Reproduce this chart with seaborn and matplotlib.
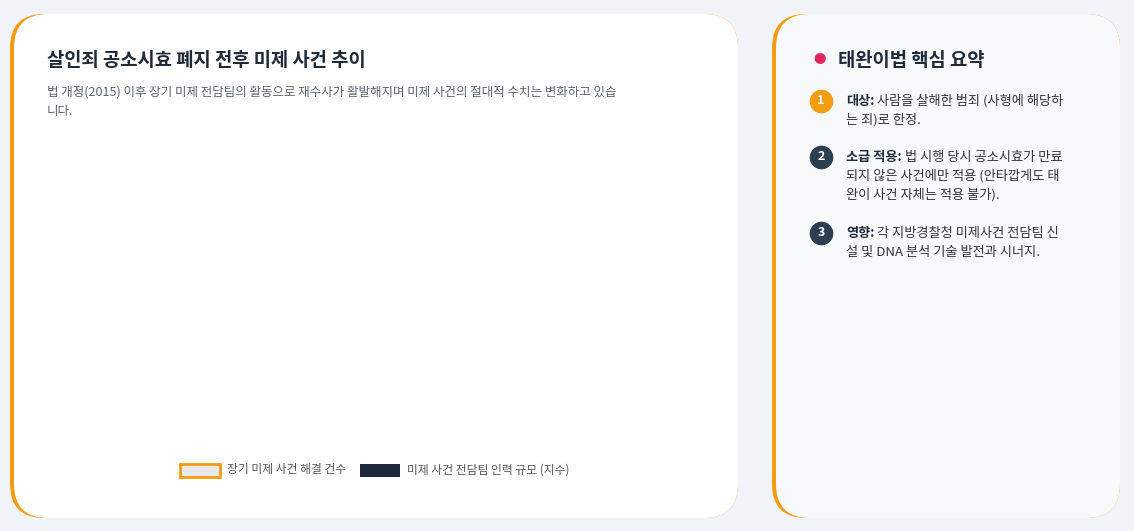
import matplotlib
matplotlib.use("Agg")
import matplotlib.pyplot as plt
import seaborn as sns
import pandas as pd
from matplotlib.patches import FancyBboxPatch, Rectangle

years = ["2010", "2012", "2014", "2015 (법 개정)", "2017", "2019", "2021", "2023"]
staff_index = [20, 20, 25, 60, 80, 85, 90, 95]
solved_cases = [2, 3, 2, 5, 12, 15, 18, 20]

sns.set_theme(style="white")
plt.rcParams['font.family'] = ['Noto Sans CJK KR', 'DejaVu Sans']

W, H = 1134, 531
fig = plt.figure(figsize=(W/100, H/100), dpi=100)
fig.patch.set_facecolor("#f0f3f7")

def fx(x): return x / W
def fy(y): return 1 - y / H

for (x0, y0, x1, y1, fc) in [(10, 14, 738, 518, "white"), (772, 14, 1120, 518, "#f8f9fb")]:
    fig.patches.append(FancyBboxPatch((fx(x0), fy(y1)), fx(x1-x0), (y1-y0)/H,
        boxstyle="round,pad=0,rounding_size=0.03", transform=fig.transFigure,
        facecolor="#f39c12", edgecolor="none", mutation_aspect=W/H))
    fig.patches.append(FancyBboxPatch((fx(x0+4), fy(y1)), fx(x1-x0-4), (y1-y0)/H,
        boxstyle="round,pad=0,rounding_size=0.03", transform=fig.transFigure,
        facecolor=fc, edgecolor="none", mutation_aspect=W/H))

fig.text(fx(47), fy(60), "살인죄 공소시효 폐지 전후 미제 사건 추이", fontsize=13.5, fontweight="bold", color="#1e2a3a", va="center")
fig.text(fx(47), fy(92), "법 개정(2015) 이후 장기 미제 전담팀의 활동으로 재수사가 활발해지며 미제 사건의 절대적 수치는 변화하고 있습", fontsize=9, color="#5a6472", va="center")
fig.text(fx(47), fy(112), "니다.", fontsize=9, color="#5a6472", va="center")

ax = fig.add_axes([fx(105), fy(406), fx(552), 259/H])
df = pd.DataFrame({"year": years, "staff": staff_index, "solved": solved_cases})
sns.barplot(data=df, x="year", y="staff", color="#1e293b", width=0.72, ax=ax, saturation=1)
ax.set_ylim(0, 100)
ax.set_yticks(range(0, 101, 10))
ax.set_ylabel("인력 규모", fontsize=8.5, color="#555")
ax.set_xlabel("")
ax.grid(True, color="#e5e5e5", lw=0.8)
ax.set_axisbelow(True)
for s in ax.spines.values():
    s.set_color("#e0e0e0")
ax.tick_params(axis="both", labelsize=8, colors="#666", length=0)
ax.tick_params(axis="x", rotation=10)
ax2 = ax.twinx()
sns.lineplot(data=df, x="year", y="solved", color="#f39c12", lw=2.2, marker="o", markersize=6,
             markeredgecolor="#f39c12", ax=ax2, sort=False)
ax2.set_ylim(0, 20)
ax2.set_yticks(range(0, 21, 2))
ax2.set_ylabel("해결 건수", fontsize=8.5, color="#555", rotation=270, labelpad=12)
ax2.tick_params(axis="y", labelsize=8, colors="#666", length=0)
for s in ax2.spines.values():
    s.set_visible(False)

fig.patches.append(Rectangle((fx(180), fy(477)), fx(40), 13/H, transform=fig.transFigure,
                             facecolor="#e8e8e8", edgecolor="#f39c12", lw=2))
fig.text(fx(227), fy(470), "장기 미제 사건 해결 건수", fontsize=8.5, color="#555", va="center")
fig.patches.append(Rectangle((fx(360), fy(477)), fx(40), 13/H, transform=fig.transFigure,
                             facecolor="#1e293b", edgecolor="none"))
fig.text(fx(407), fy(470), "미제 사건 전담팀 인력 규모 (지수)", fontsize=8.5, color="#555", va="center")

fig.text(fx(813), fy(60), "●", fontsize=9, color="#e0245e", va="center")
fig.text(fx(838), fy(60), "태완이법 핵심 요약", fontsize=13.5, fontweight="bold", color="#1e2a3a", va="center")
items = [
    ("#f39c12", "1", 101, "대상:", " 사람을 살해한 범죄 (사형에 해당하", ["는 죄)로 한정."]),
    ("#2c3e50", "2", 157, "소급 적용:", " 법 시행 당시 공소시효가 만료", ["되지 않은 사건에만 적용 (안타깝게도 태", "완이 사건 자체는 적용 불가)."]),
    ("#2c3e50", "3", 233, "영향:", " 각 지방경찰청 미제사건 전담팀 신", ["설 및 DNA 분석 기술 발전과 시너지."]),
]
fig.canvas.draw()
for col, num, y, bold, rest, lines in items:
    fig.lines.append(plt.Line2D([fx(821)], [fy(y)], marker="o", markersize=16, color=col,
                                transform=fig.transFigure, linestyle="none"))
    fig.text(fx(821), fy(y), num, fontsize=9, fontweight="bold", color="white", ha="center", va="center")
    t = fig.text(fx(846), fy(y), bold, fontsize=9.5, fontweight="bold", color="#1e2a3a", va="center")
    bb = t.get_window_extent(renderer=fig.canvas.get_renderer())
    fig.text(bb.x1 / W, fy(y), rest, fontsize=9.5, color="#333", va="center")
    for i, ln in enumerate(lines):
        fig.text(fx(846), fy(y + 19 * (i + 1)), ln, fontsize=9.5, color="#333", va="center")

fig.savefig("out.png", dpi=100, facecolor=fig.get_facecolor())
